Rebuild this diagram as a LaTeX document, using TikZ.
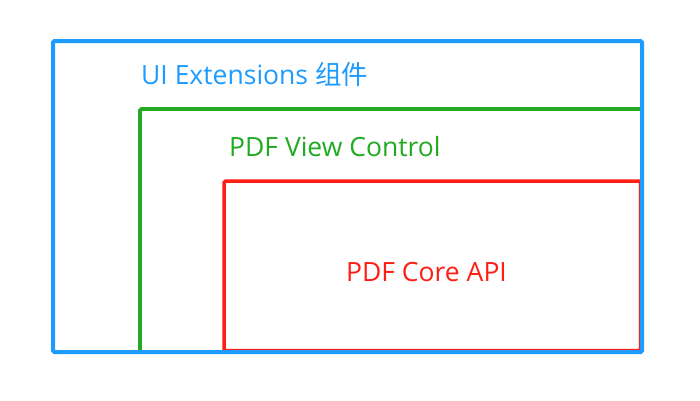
\documentclass[tikz,border=0pt]{standalone}
\usepackage{fontspec}
\setmainfont{Open Sans}
\newfontfamily\cjkfont{Noto Sans CJK SC}
\definecolor{uiblue}{RGB}{30,155,255}
\definecolor{vgreen}{RGB}{34,170,34}
\definecolor{cred}{RGB}{255,30,20}
\tikzset{
  boxline/.style={line width=3.5pt, rounded corners=1.5pt},
  lbl/.style={inner sep=0pt, anchor=base west, font=\fontsize{26.5}{30}\selectfont},
}
\begin{document}
\begin{tikzpicture}[x=1pt,y=-1pt]
\useasboundingbox[fill=white] (0,0) rectangle (700,400);
\draw[boxline, cred] (224,181) rectangle (640.5,350.5);
\draw[boxline, line width=3.8pt, vgreen] (140,109) rectangle (642,352);
\draw[boxline, line width=4pt, uiblue] (53,41) rectangle (642,352);
\node[lbl, text=uiblue] (ui) at (141,84) {UI Extensions {\cjkfont 组件}};
\node[lbl, text=vgreen] (view) at (229,156) {PDF View Control};
\node[lbl, text=cred, anchor=base] (core) at (426.5,281.7) {PDF Core API};
\end{tikzpicture}
\end{document}
